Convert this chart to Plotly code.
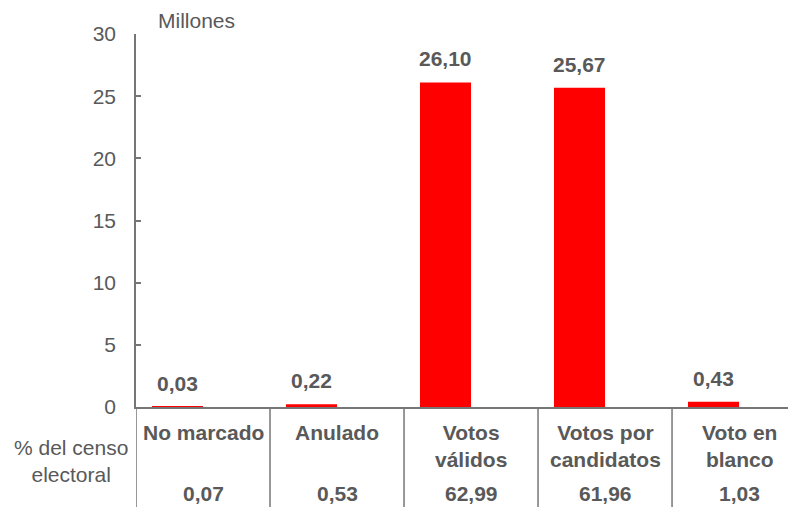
import plotly.graph_objects as go

categories = ["No marcado", "Anulado", "Votos<br>válidos", "Votos por<br>candidatos", "Voto en<br>blanco"]
millones = [0.03, 0.22, 26.10, 25.67, 0.43]
pct_censo = [0.07, 0.53, 62.99, 61.96, 1.03]
y_ticks = [0, 5, 10, 15, 20, 25, 30]

FONT = "Liberation Sans, Arial, sans-serif"
TXT = "#595959"
LINE = "#767676"
BAR_W = 0.381
FS = 21

def fmt(v):
    return f"{v:.2f}".replace(".", ",")

xs = list(range(len(categories)))

fig = go.Figure()
fig.add_trace(go.Bar(
    x=xs, y=millones, width=BAR_W, offset=-BAR_W,
    marker=dict(color="#FF0000", line=dict(width=0)),
    hoverinfo="skip", showlegend=False,
))

ann = []
for i, v in enumerate(millones):
    ann.append(dict(x=i - BAR_W / 2, y=v, xref="x", yref="y", text=f"<b>{fmt(v)}</b>",
                    showarrow=False, yanchor="bottom", xanchor="center", yshift=10,
                    font=dict(family=FONT, size=FS, color=TXT)))
for i, c in enumerate(categories):
    ann.append(dict(x=i, y=0, xref="x", yref="paper", text=f"<b>{c}</b>",
                    showarrow=False, yanchor="top", xanchor="center", yshift=-12,
                    font=dict(family=FONT, size=FS, color=TXT)))
for i, p in enumerate(pct_censo):
    ann.append(dict(x=i, y=0, xref="x", yref="paper", text=f"<b>{fmt(p)}</b>",
                    showarrow=False, yanchor="top", xanchor="center", yshift=-73,
                    font=dict(family=FONT, size=FS, color=TXT)))
ann.append(dict(x=-65 / 660, y=0, xref="paper", yref="paper", text="% del censo<br>electoral",
                showarrow=False, yanchor="top", xanchor="center", yshift=-27,
                font=dict(family=FONT, size=FS, color=TXT)))
ann.append(dict(x=20 / 660, y=1, xref="paper", yref="paper", text="Millones",
                showarrow=False, yanchor="top", xanchor="left", yshift=27,
                font=dict(family=FONT, size=FS, color=TXT)))

shapes = []
for i in range(len(categories)):
    shapes.append(dict(type="line", xref="x", yref="paper", x0=i - 0.5, x1=i - 0.5,
                       y0=0, y1=-0.3, line=dict(color=LINE, width=1.5)))

fig.update_layout(
    width=788, height=499,
    margin=dict(l=128, r=0, t=26, b=100),
    paper_bgcolor="white", plot_bgcolor="white",
    annotations=ann, shapes=shapes,
    xaxis=dict(range=[-0.5, 4.425], showticklabels=False, ticks="", showgrid=False,
               zeroline=False, showline=True, linecolor=LINE, linewidth=1.5, fixedrange=True),
    yaxis=dict(range=[0, 30], tickvals=y_ticks, ticks="inside", ticklen=5, tickwidth=1.5,
               tickcolor=LINE, showline=True, linecolor=LINE, linewidth=1.5, showgrid=False,
               zeroline=False, ticklabelstandoff=14,
               tickfont=dict(family=FONT, size=FS, color=TXT), fixedrange=True),
    font=dict(family=FONT, color=TXT),
)

fig.write_html("out.html", config={"displayModeBar": False})
